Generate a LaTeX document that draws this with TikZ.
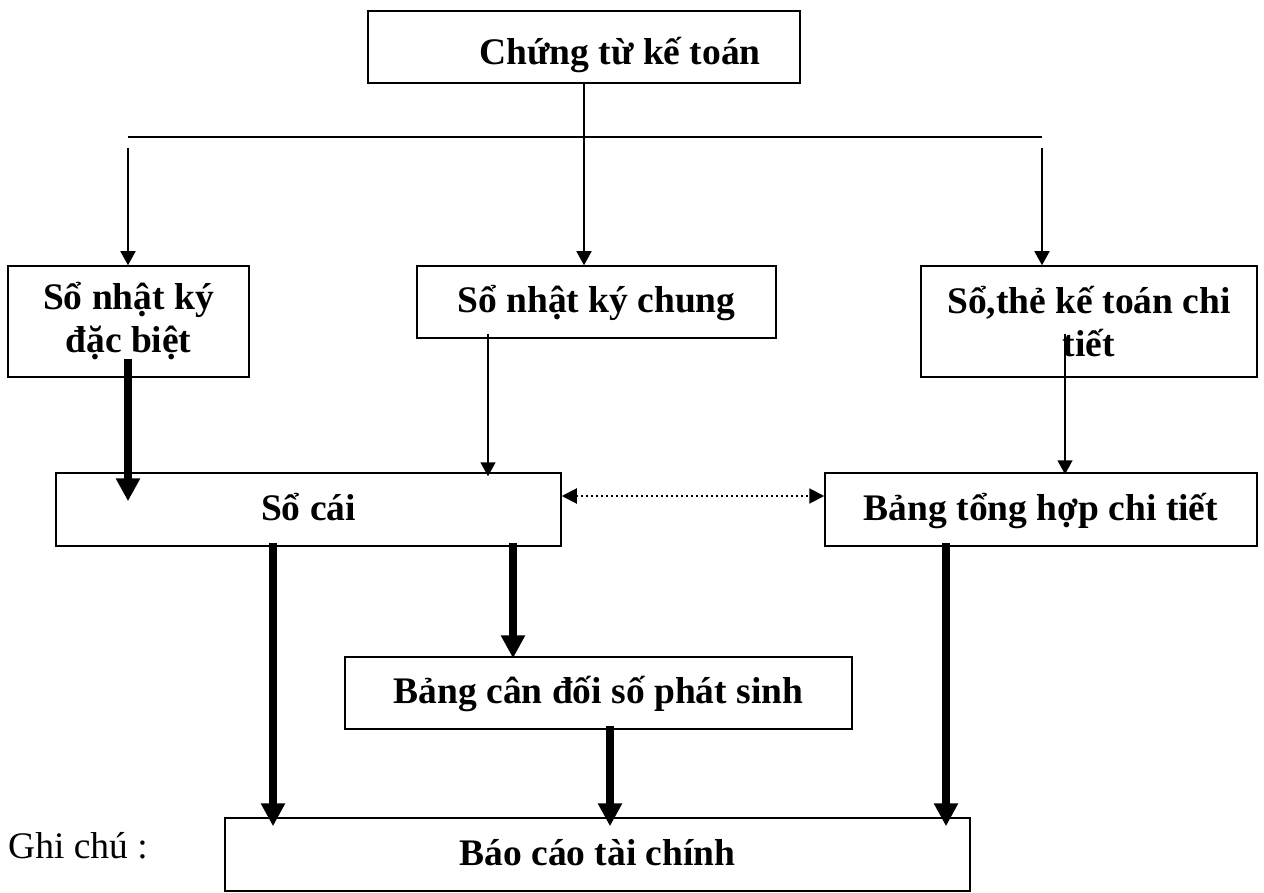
\documentclass[tikz,border=0pt]{standalone}
\usepackage{fontspec}
\setmainfont{Liberation Serif}
\usetikzlibrary{arrows.meta,calc}

\tikzset{
  boxbase/.style={draw, line width=1.5pt, inner sep=0pt, align=center,
    font=\fontsize{37.5}{43}\selectfont\bfseries},
  onebox/.style={boxbase, text height=26pt, text depth=5pt},
  twobox/.style={boxbase},
  thinarrow/.style={line width=1.5pt, -{Triangle[length=14pt,width=15pt]}},
  thickarrow/.style={line width=7.5pt, -{Triangle[length=23pt,width=23pt]}},
  dotarrow/.style={line width=2pt, dash pattern=on 2pt off 3pt,
    {Triangle[length=15pt,width=15pt]}-{Triangle[length=15pt,width=15pt]}},
  plainline/.style={line width=1.5pt}
}

\begin{document}
\begin{tikzpicture}[x=1pt,y=-1pt]
  \useasboundingbox (0,0) rectangle (1264,893);

  % boxes
  \node[onebox, minimum width=432pt, minimum height=72pt, text height=36pt, text depth=0pt]
    (ct) at (584,47) {\hspace*{72pt}Chứng từ kế toán};
  \node[twobox, minimum width=241pt, minimum height=111pt]
    (dacbiet) at (128.5,321.5) {Sổ nhật ký\\đặc biệt};
  \node[onebox, minimum width=359pt, minimum height=72pt]
    (chung) at (596.5,302) {Sổ nhật ký chung};
  \node[twobox, minimum width=336pt, minimum height=111pt]
    (chitiet) at (1089,321.5) {Sổ,thẻ kế toán chi\\tiết};
  \node[onebox, minimum width=505pt, minimum height=73pt]
    (socai) at (308.5,509.5) {Sổ cái};
  \node[onebox, minimum width=432pt, minimum height=73pt]
    (tonghop) at (1041,509.5) {Bảng tổng hợp chi tiết};
  \node[onebox, minimum width=507pt, minimum height=72pt]
    (candoi) at (598.5,693) {Bảng cân đối số phát sinh};
  \node[onebox, minimum width=745pt, minimum height=73pt]
    (baocao) at (597.5,854.5) {Báo cáo tài chính};

  \node[anchor=base west, inner sep=0pt, font=\fontsize{37.5}{43}\selectfont]
    (ghichu) at (8,858) {Ghi chú :};

  % distribution bar below the source documents
  \coordinate (busL) at (128,137);
  \coordinate (busR) at (1042,137);
  \draw[plainline] (busL) -- (busR);
  \draw[thinarrow] (ct.south) -- (ct.south |- chung.north);
  \draw[thinarrow] ($(busL)+(0,11)$) -- (busL |- dacbiet.north);
  \draw[thinarrow] ($(busR)+(0,11)$) -- (busR |- chitiet.north);

  % journals to ledgers
  \draw[thickarrow] ($(dacbiet.south)+(-0.5,-19)$) -- ($(dacbiet.south |- socai.north)+(-0.5,29)$);
  \draw[thinarrow] ($(chung.south)+(-108.5,-5)$) -- ($(chung.south |- socai.north)+(-108.5,4)$);
  \draw[thinarrow] ($(chitiet.south)+(-24,-44)$) -- ($(chitiet.south |- tonghop.north)+(-24,2)$);

  % reconciliation
  \draw[dotarrow] ($(socai.east)+(0,-13.5)$) -- ($(socai.east -| tonghop.west)+(0,-13.5)$);

  % to the reports
  \draw[thickarrow] ($(socai.south)+(-35.5,-4)$) -- ($(socai.south |- baocao.north)+(-35.5,9)$);
  \draw[thickarrow] ($(socai.south)+(204.5,-4)$) -- ($(socai.south |- candoi.north)+(204.5,2)$);
  \draw[thickarrow] ($(candoi.south)+(11.5,-4)$) -- ($(candoi.south |- baocao.north)+(11.5,9)$);
  \draw[thickarrow] ($(tonghop.south)+(-95,-4)$) -- ($(tonghop.south |- baocao.north)+(-95,9)$);
\end{tikzpicture}
\end{document}
